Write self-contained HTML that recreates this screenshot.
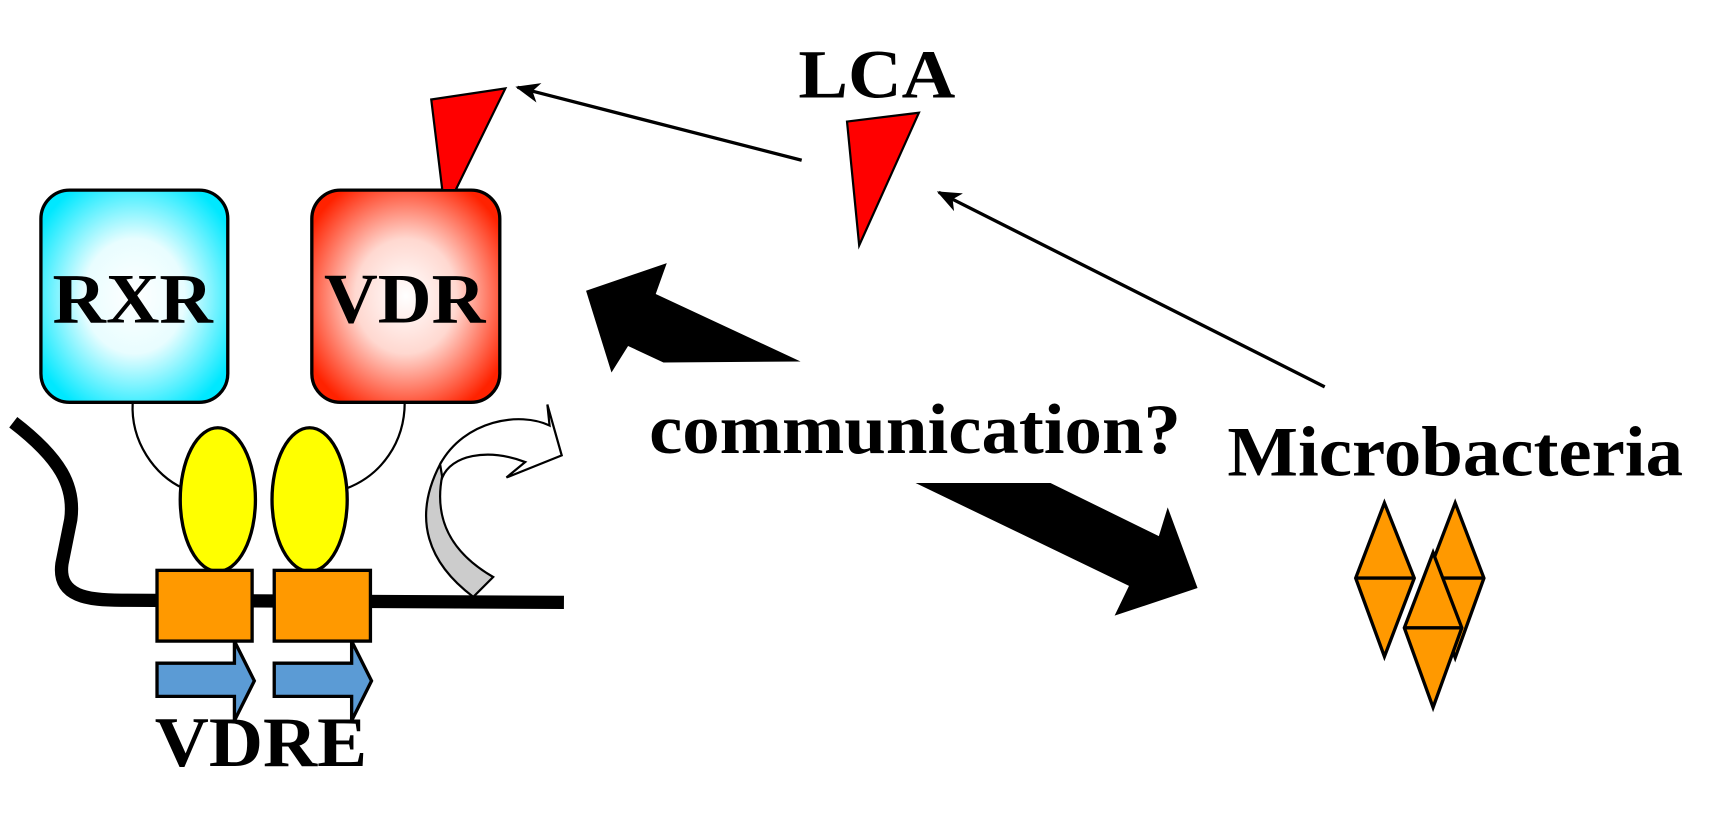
<!DOCTYPE html>
<html><head><meta charset="utf-8"><style>
html,body{margin:0;padding:0;background:#fff;width:1725px;height:829px;overflow:hidden}
svg{display:block}
text{font-family:"Liberation Serif",serif;font-weight:bold;fill:#000}
</style></head><body>
<svg width="1725" height="829" viewBox="0 0 1560 750" preserveAspectRatio="none" xmlns="http://www.w3.org/2000/svg">
<defs>
<radialGradient id="cy" cx="50%" cy="50%" r="60%"><stop offset="0" stop-color="#fff"/><stop offset="0.45" stop-color="#e8fdff"/><stop offset="1" stop-color="#00e8ff"/></radialGradient>
<radialGradient id="rd" cx="50%" cy="50%" r="60%"><stop offset="0" stop-color="#fff"/><stop offset="0.45" stop-color="#ffd8d0"/><stop offset="1" stop-color="#ff2200"/></radialGradient>
<marker id="ah" markerWidth="22" markerHeight="18" refX="20" refY="9" orient="auto" markerUnits="userSpaceOnUse"><path d="M0,0 L22,9 L0,18 L6,9 Z" fill="#000"/></marker>
</defs>
<path d="M12,382 C55,415 68,440 64,470 L56,510 C52,540 80,543 110,543 L510,545" fill="none" stroke="#000" stroke-width="12"/>
<path d="M120,364 C118,400 140,430 166,442" fill="none" stroke="#000" stroke-width="2"/>
<path d="M366,364 C366,400 345,430 313,442" fill="none" stroke="#000" stroke-width="2"/>
<rect x="37" y="172" width="169" height="192" rx="26" fill="url(#cy)" stroke="#000" stroke-width="3"/>
<rect x="282" y="172" width="170" height="192" rx="26" fill="url(#rd)" stroke="#000" stroke-width="3"/>
<text x="120" y="292" font-size="64" text-anchor="middle" textLength="145" lengthAdjust="spacingAndGlyphs">RXR</text>
<text x="366" y="292" font-size="64" text-anchor="middle" textLength="146" lengthAdjust="spacingAndGlyphs">VDR</text>
<polygon points="390,90 457,80 412,172 400,172" fill="#ff0000" stroke="#000" stroke-width="2"/>
<polygon points="766,110 831,102 777,222" fill="#ff0000" stroke="#000" stroke-width="2"/>
<text x="793" y="88" font-size="62" text-anchor="middle" textLength="142" lengthAdjust="spacingAndGlyphs">LCA</text>
<line x1="725" y1="145" x2="468" y2="79" stroke="#000" stroke-width="3" marker-end="url(#ah)"/>
<line x1="1198" y1="350" x2="849" y2="174" stroke="#000" stroke-width="3" marker-end="url(#ah)"/>
<polygon points="724,327 600,328 568,313 553,337 530,263 603,238 593,266" fill="#000"/>
<polygon points="828,437 950,437 1048,485 1056,459 1083,532 1008,557 1021,530" fill="#000"/>
<text x="587" y="410" font-size="64" textLength="481" lengthAdjust="spacingAndGlyphs">communication?</text>
<text x="1110" y="430" font-size="64" textLength="412" lengthAdjust="spacingAndGlyphs">Microbacteria</text>
<ellipse cx="197" cy="452" rx="34" ry="65" fill="#ffff00" stroke="#000" stroke-width="3"/>
<ellipse cx="280" cy="452" rx="34" ry="65" fill="#ffff00" stroke="#000" stroke-width="3"/>
<rect x="142" y="516" width="86" height="64" fill="#ff9900" stroke="#000" stroke-width="3"/>
<rect x="248" y="516" width="87" height="64" fill="#ff9900" stroke="#000" stroke-width="3"/>
<polygon points="142,600 212,600 212,580 230,616 212,652 212,630 142,630" fill="#5b9bd5" stroke="#000" stroke-width="3"/>
<polygon points="248,600 318,600 318,580 336,616 318,652 318,630 248,630" fill="#5b9bd5" stroke="#000" stroke-width="3"/>
<text x="236" y="693" font-size="64" text-anchor="middle" textLength="192" lengthAdjust="spacingAndGlyphs">VDRE</text>
<path d="M400,430 C392,470 408,500 446,522 L428,540 C388,510 372,470 398,420 Z" fill="#cccccc" stroke="#000" stroke-width="2"/>
<path d="M398,420 C420,380 470,372 497,385 L495,366 L508,412 L458,432 L475,418 C440,405 408,412 400,432 Z" fill="#fff" stroke="#000" stroke-width="2"/>
<g fill="#ff9900" stroke="#000" stroke-width="3">
<polygon points="1252,455 1279,523 1252,594 1226,523"/>
<line x1="1226" y1="523" x2="1279" y2="523"/>
<polygon points="1316,455 1342,523 1316,595 1290,523"/>
<line x1="1290" y1="523" x2="1342" y2="523"/>
<polygon points="1296,500 1322,568 1296,640 1270,568"/>
<line x1="1270" y1="568" x2="1322" y2="568"/>
</g>
</svg>
</body></html>
